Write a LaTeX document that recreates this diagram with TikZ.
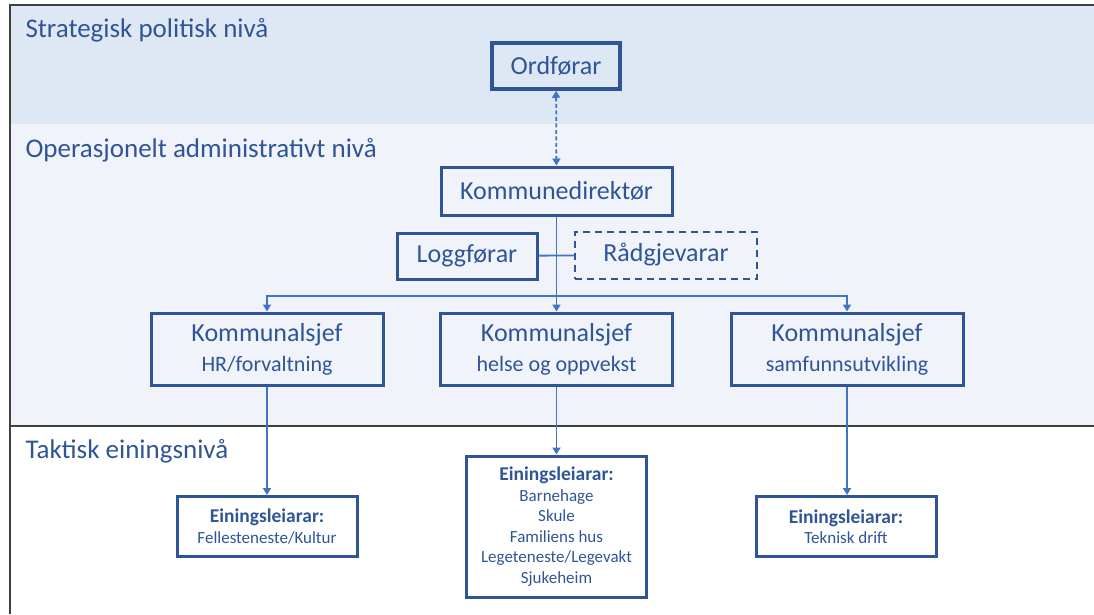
\documentclass[tikz,border=0pt]{standalone}
\usepackage{fontspec}
\setmainfont{Carlito}
\usetikzlibrary{arrows.meta}
\definecolor{boxblue}{HTML}{2F5597}
\definecolor{lineblue}{HTML}{4472C4}
\definecolor{topband}{HTML}{DEE8F5}
\definecolor{midband}{HTML}{F0F3FA}
\definecolor{framegray}{HTML}{404040}
\newcommand{\leveltext}{\fontsize{27}{31}\selectfont}
\newcommand{\boxtext}{\fontsize{26}{30}\selectfont}
\newcommand{\subtext}{\fontsize{22}{31}\selectfont}
\newcommand{\unittext}{\fontsize{17}{20.5}\selectfont}
\newcommand{\unithead}{\fontsize{19.5}{20.5}\selectfont\bfseries}

\begin{document}
\begin{tikzpicture}[x=1pt,y=-1pt,
  level/.style={anchor=base west,text=boxblue,font=\leveltext},
  unit/.style={draw=boxblue,line width=3pt,text=boxblue,align=center,inner sep=0pt,font=\boxtext},
  leader/.style={unit,minimum width=232pt,minimum height=72pt},
  team/.style={unit,minimum width=180pt,font=\unittext},
  link/.style={draw=lineblue,line width=1.8pt},
  tip/.style={-{Triangle[width=8pt,length=7pt]}}]
\useasboundingbox (0,0) rectangle (1094,614);

\fill[topband] (10,5) rectangle (1094,124);
\fill[midband] (10,124) rectangle (1094,426);
\draw[framegray,line width=2.5pt] (1094,5) -- (10,5) -- (10,614);
\draw[framegray,line width=2.5pt] (10,426) -- (1094,426);

\node[level] at (22,37) {Strategisk politisk nivå};
\node[level] at (22,157) {Operasjonelt administrativt nivå};
\node[level] at (22,458) {Taktisk einingsnivå};

\node[unit,line width=3.5pt,minimum width=128pt,minimum height=46pt] (ordforar) at (556,66) {Ordførar};
\node[unit,minimum width=231pt,minimum height=48pt] (direktor) at (556.5,191) {Kommunedirektør};
\node[unit,minimum width=140pt,minimum height=46pt] (logg) at (467,256) {Loggførar};
\node[unit,line width=2pt,dash pattern=on 7pt off 5pt,minimum width=182pt,minimum height=47pt] (radgj) at (666,255) {Rådgjevarar};

\node[leader] (hr) at (267,349) {Kommunalsjef\\{\subtext HR/forvaltning}};
\node[leader] (helse) at (556.5,349) {Kommunalsjef\\{\subtext helse og oppvekst}};
\node[leader] (samf) at (847,349) {Kommunalsjef\\{\subtext samfunnsutvikling}};

\node[team,minimum height=60pt] (felles) at (267,526.5) {{\unithead Einingsleiarar:}\\Fellesteneste/Kultur};
\node[team,minimum height=141pt] (oppvekst) at (556.5,526.5) {{\unithead Einingsleiarar:}\\Barnehage\\Skule\\Familiens hus\\Legeteneste/Legevakt\\Sjukeheim};
\node[team,minimum height=60pt] (teknisk) at (846,526.5) {{\unithead Einingsleiarar:}\\Teknisk drift};

\draw[link,{Triangle[width=8pt,length=7pt]}-{Triangle[width=8pt,length=7pt]},dash pattern=on 4pt off 2.5pt] (ordforar) -- (direktor);
\draw[link] (logg) -- (radgj);
\draw[link,tip] (direktor) -- (helse);
\coordinate (split) at (556.5,296);
\draw[link,tip] (split) -| (hr.north);
\draw[link,tip] (split) -| (samf.north);
\draw[link,tip] (hr) -- (felles);
\draw[link,tip] (helse) -- (oppvekst);
\draw[link,tip] (samf.south) -- (samf.south |- teknisk.north);
\end{tikzpicture}
\end{document}
